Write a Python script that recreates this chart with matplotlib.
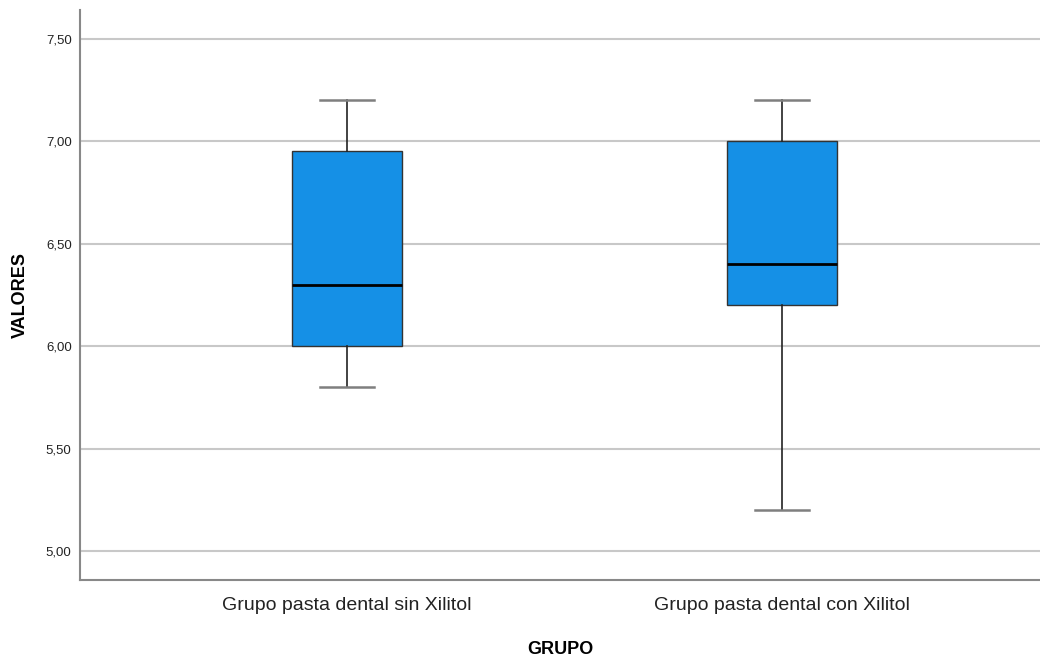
import matplotlib.pyplot as plt
from matplotlib.ticker import FuncFormatter

plt.rcParams['font.family'] = ['Liberation Sans', 'DejaVu Sans']

grupos = ['Grupo pasta dental sin Xilitol', 'Grupo pasta dental con Xilitol']
minimos = [5.8, 5.2]
q1 = [6.0, 6.2]
medianas = [6.3, 6.4]
q3 = [6.95, 7.0]
maximos = [7.2, 7.2]

stats = []
for i in range(len(grupos)):
    stats.append({'whislo': minimos[i], 'q1': q1[i], 'med': medianas[i],
                  'q3': q3[i], 'whishi': maximos[i], 'label': grupos[i]})

fig = plt.figure(figsize=(10.4, 6.57), dpi=100)
ax = fig.add_axes([0.0769, 0.1172, 0.9231, 0.8676])

ax.bxp(stats, positions=[1, 2], widths=0.253, patch_artist=True, showfliers=False,
       boxprops=dict(facecolor='#1590e6', edgecolor='#333333', linewidth=1.0),
       medianprops=dict(color='black', linewidth=2.0),
       whiskerprops=dict(color='#222222', linewidth=1.2),
       capprops=dict(color='#7f7f7f', linewidth=1.8),
       capwidths=0.124, zorder=3)

ax.set_xlim(0.386, 2.593)
ax.set_ylim(4.86, 7.64)
ax.set_yticks([5.0, 5.5, 6.0, 6.5, 7.0, 7.5])
ax.yaxis.set_major_formatter(FuncFormatter(lambda v, p: ('%.2f' % v).replace('.', ',')))
ax.grid(axis='y', color='#c8c8c8', linewidth=1.5, zorder=0)
ax.set_axisbelow(True)

for s in ['top', 'right']:
    ax.spines[s].set_visible(False)
for s in ['left', 'bottom']:
    ax.spines[s].set_color('#888888')
    ax.spines[s].set_linewidth(1.5)

ax.tick_params(axis='y', length=0, labelsize=9.5, pad=6, colors='#222222')
ax.tick_params(axis='x', length=0, labelsize=14, pad=12, colors='#222222')
ax.set_xticks([1, 2])
ax.set_xticklabels(grupos)

ax.set_ylabel('VALORES', fontsize=13, fontweight='bold', labelpad=12)
ax.set_xlabel('GRUPO', fontsize=13, fontweight='bold', labelpad=20)

fig.savefig('out.png', dpi=100)
